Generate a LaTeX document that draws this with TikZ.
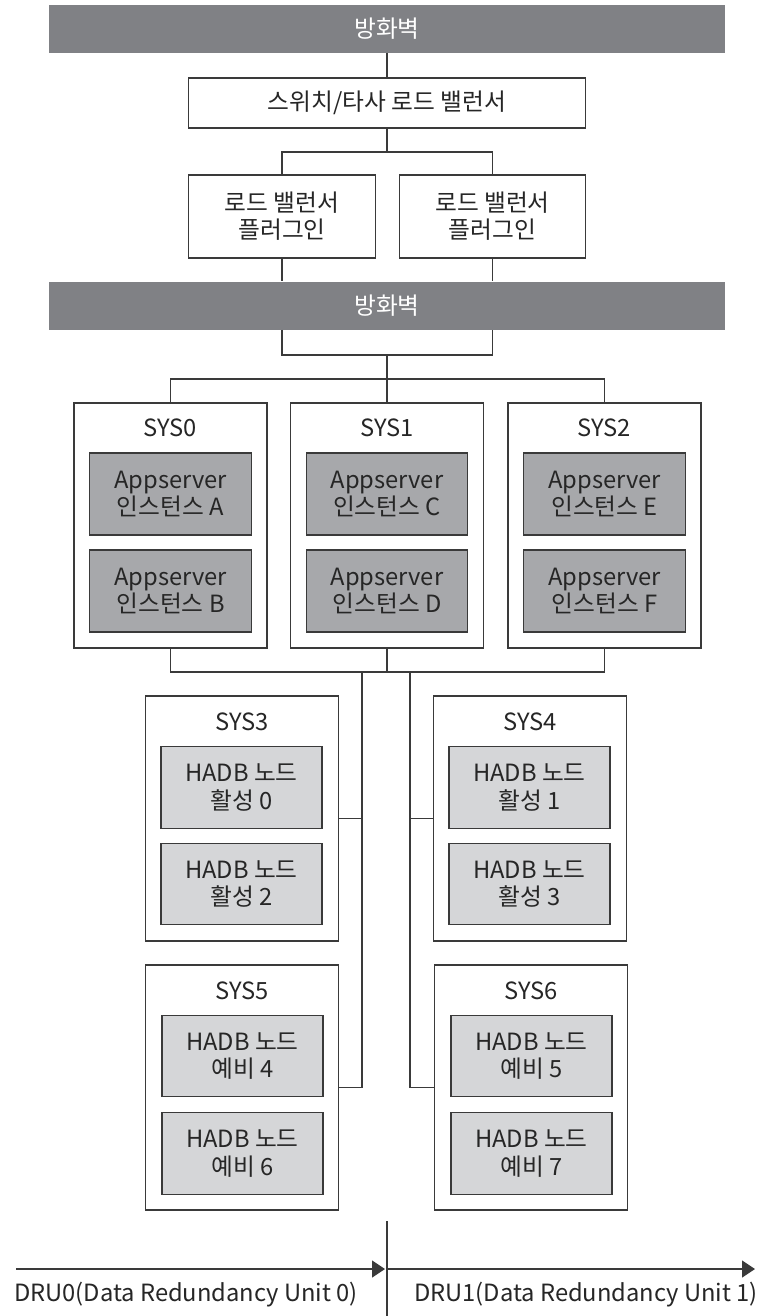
\documentclass[tikz,border=0pt]{standalone}
\usepackage{fontspec}
\setmainfont{Noto Sans CJK KR}
\usepackage{xcolor}
\usepackage{tikz}
\usetikzlibrary{arrows.meta, positioning}
\definecolor{fwgray}{HTML}{808185}
\definecolor{appgray}{HTML}{A7A8AB}
\definecolor{hadbgray}{HTML}{D5D6D8}
\definecolor{linegray}{HTML}{3A3A3A}
\definecolor{textgray}{HTML}{262626}
\tikzstyle{firewall} = [rectangle, minimum width=13.52cm, minimum height=0.96cm, text centered, fill=fwgray, text=white]
\tikzstyle{lbbox} = [rectangle, minimum width=7.94cm, minimum height=1cm, text centered, draw=linegray, line width=0.75pt, fill=white]
\tikzstyle{plugin} = [rectangle, minimum width=3.73cm, minimum height=1.66cm, align=center, draw=linegray, line width=0.75pt, fill=white]
\tikzstyle{sysbox} = [rectangle, minimum width=3.86cm, minimum height=4.9cm, draw=linegray, line width=0.75pt, fill=white]
\tikzstyle{systitle} = [inner sep=0pt]
\tikzstyle{appbox} = [rectangle, minimum width=3.23cm, minimum height=1.64cm, align=center, draw=linegray, line width=0.75pt, fill=appgray]
\tikzstyle{hadbbox} = [rectangle, minimum width=3.22cm, minimum height=1.63cm, align=center, draw=linegray, line width=0.75pt, fill=hadbgray]
\tikzstyle{wire} = [draw=linegray, line width=0.75pt]
\tikzstyle{druarrow} = [wire, -{Triangle[length=0.26cm, width=0.34cm]}]

\begin{document}
\begin{tikzpicture}[x=0.02cm, y=-0.02cm, every node/.style={font=\fontsize{13.5}{15.5}\selectfont, text=textgray}]
\useasboundingbox (0,0) rectangle (766,1316);

\node (fw1) [firewall] at (387,28.5) {방화벽};
\node (lb) [lbbox] at (387,103) {스위치/타사 로드 밸런서};
\node (plugin1) [plugin] at (282,216.5) {로드 밸런서\\플러그인};
\node (plugin2) [plugin] at (492.5,216.5) {로드 밸런서\\플러그인};
\node (fw2) [firewall] at (387,305.5) {방화벽};

\node (sys0) [sysbox] at (170.5,525.5) {};
\node (sys1) [sysbox] at (387,525.5) {};
\node (sys2) [sysbox] at (604.5,525.5) {};
\node (sys0t) [systitle] at (170.5,428) {SYS0};
\node (sys1t) [systitle] at (387,428) {SYS1};
\node (sys2t) [systitle] at (604.5,428) {SYS2};
\node (appA) [appbox] at (170.5,494) {Appserver\\인스턴스 A};
\node (appB) [appbox] at (170.5,591) {Appserver\\인스턴스 B};
\node (appC) [appbox] at (387,494) {Appserver\\인스턴스 C};
\node (appD) [appbox] at (387,591) {Appserver\\인스턴스 D};
\node (appE) [appbox] at (604.5,494) {Appserver\\인스턴스 E};
\node (appF) [appbox] at (604.5,591) {Appserver\\인스턴스 F};

\node (sys3) [sysbox] at (242,818.5) {};
\node (sys4) [sysbox] at (530,818.5) {};
\node (sys5) [sysbox] at (242,1087.5) {};
\node (sys6) [sysbox] at (531,1087.5) {};
\node (sys3t) [systitle] at (242,722) {SYS3};
\node (sys4t) [systitle] at (530,722) {SYS4};
\node (sys5t) [systitle] at (242,991) {SYS5};
\node (sys6t) [systitle] at (531,991) {SYS6};
\node (hadb0) [hadbbox] at (241.5,787.5) {HADB 노드\\활성 0};
\node (hadb2) [hadbbox] at (241.5,884) {HADB 노드\\활성 2};
\node (hadb1) [hadbbox] at (529.5,787.5) {HADB 노드\\활성 1};
\node (hadb3) [hadbbox] at (529.5,884) {HADB 노드\\활성 3};
\node (hadb4) [hadbbox] at (242.5,1056) {HADB 노드\\예비 4};
\node (hadb6) [hadbbox] at (242.5,1153.5) {HADB 노드\\예비 6};
\node (hadb5) [hadbbox] at (531.5,1056) {HADB 노드\\예비 5};
\node (hadb7) [hadbbox] at (531.5,1153.5) {HADB 노드\\예비 7};

\coordinate (split1) at (387,152);
\coordinate (split2) at (387,355);
\coordinate (split3) at (387,379);
\coordinate (split4) at (387,672);
\coordinate (busL) at (362,672);
\coordinate (busR) at (410,672);

\draw [wire] (fw1) -- (lb);
\draw [wire] (lb) -- (split1);
\draw [wire] (plugin1.north) |- (split1) -| (plugin2.north);
\draw [wire] (plugin1.south) -- (plugin1.south |- fw2.north);
\draw [wire] (plugin2.south) -- (plugin2.south |- fw2.north);
\draw [wire] (plugin1.south |- fw2.south) |- (split2) -| (plugin2.south |- fw2.south);
\draw [wire] (split2) -- (split3);
\draw [wire] (sys0.north) |- (split3) -| (sys2.north);
\draw [wire] (split3) -- (sys1.north);
\draw [wire] (sys0.south) |- (split4) -| (sys2.south);
\draw [wire] (sys1.south) -- (split4);
\draw [wire] (busL) |- (sys5.east);
\draw [wire] (sys3.east) -- (sys3.east -| busL);
\draw [wire] (busR) |- (sys6.west);
\draw [wire] (sys4.west) -- (sys4.west -| busR);

\coordinate (divtop) at (387,1221);
\coordinate (divbot) at (387,1316);
\coordinate (dru0start) at (16,1269);
\coordinate (dru0end) at (385,1269);
\coordinate (dru1start) at (388,1269);
\coordinate (dru1end) at (755,1269);
\draw [wire] (divtop) -- (divbot);
\draw [druarrow] (dru0start) -- (dru0end);
\draw [druarrow] (dru1start) -- (dru1end);
\node (dru0) at (186,1295) {DRU0(Data Redundancy Unit 0)};
\node (dru1) at (586,1295) {DRU1(Data Redundancy Unit 1)};

\end{tikzpicture}
\end{document}
